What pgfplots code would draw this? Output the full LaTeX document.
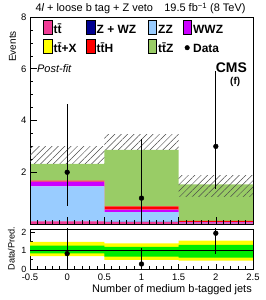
\documentclass[border=0pt]{standalone}
\usepackage{fontspec}
\setmainfont{Liberation Sans}
\usepackage{pgfplots}
\pgfplotsset{compat=1.18}
\usetikzlibrary{patterns.meta}
\definecolor{cTT}{RGB}{240,60,150}
\definecolor{cZWZ}{RGB}{0,0,145}
\definecolor{cZZ}{RGB}{153,204,255}
\definecolor{cWWZ}{RGB}{204,0,255}
\definecolor{cTTX}{RGB}{255,255,0}
\definecolor{cTTH}{RGB}{255,0,0}
\definecolor{cTTZ}{RGB}{153,204,102}
\definecolor{bandG}{RGB}{0,235,0}
\definecolor{bandY}{RGB}{255,255,0}
\newcommand{\tf}{\fontsize{9.5}{11}\selectfont}
\newcommand{\ttb}{t\={t}}
\pgfplotsset{
  common/.style={
    scale only axis, width=223bp,
    xmin=-0.5, xmax=2.5,
    tick align=inside, xtick pos=left, ytick pos=left,
    axis line style={line width=0.8bp},
    every tick/.style={black, line width=0.6bp},
    /pgf/number format/assume math mode=true,
    tick label style={font=\tf},
    xtick={-0.5,0,0.5,1,1.5,2,2.5},
    minor x tick num=4,
  },
  boxleg/.style={legend image code/.code={\fill[##1] (0bp,-4.7bp) rectangle (8.4bp,9.3bp);}},
}
\begin{document}
\begin{tikzpicture}
\useasboundingbox (-30bp,-76bp) rectangle (236bp,224bp);
% stack
\begin{axis}[common, at={(0,0)}, anchor=south west, height=207bp,
  ymin=0, ymax=8, hide axis, stack plots=y]
\addplot[const plot, fill=cTT, draw=none] coordinates {(-0.5,0.10) (0.5,0.08) (1.5,0.02) (2.5,0.02)} \closedcycle;
\addplot[const plot, fill=cZWZ, draw=none] coordinates {(-0.5,0.0) (0.5,0.0) (1.5,0.0) (2.5,0.0)} \closedcycle;
\addplot[const plot, fill=cZZ, draw=none] coordinates {(-0.5,1.35) (0.5,0.38) (1.5,0.02) (2.5,0.02)} \closedcycle;
\addplot[const plot, fill=cWWZ, draw=none] coordinates {(-0.5,0.19) (0.5,0.10) (1.5,0.02) (2.5,0.02)} \closedcycle;
\addplot[const plot, fill=cTTX, draw=none] coordinates {(-0.5,0.0) (0.5,0.0) (1.5,0.0) (2.5,0.0)} \closedcycle;
\addplot[const plot, fill=cTTH, draw=none] coordinates {(-0.5,0.04) (0.5,0.12) (1.5,0.06) (2.5,0.06)} \closedcycle;
\addplot[const plot, fill=cTTZ, draw=none] coordinates {(-0.5,0.64) (0.5,2.18) (1.5,1.41) (2.5,1.41)} \closedcycle;
\end{axis}
% overlay
\begin{axis}[common, at={(0,0)}, anchor=south west, height=207bp,
  ymin=0, ymax=8, ytick={2,4,6,8}, minor y tick num=3, xticklabels={},
  major tick length=7bp, minor tick length=3.5bp,
  legend columns=4,
  legend style={at={(rel axis cs:0,1)}, anchor=north west, xshift=13.3bp, yshift=-3bp,
    draw=none, fill=none, inner sep=0pt, outer sep=0pt, column sep=0pt, row sep=4.7bp,
    font=\fontsize{12}{13}\selectfont\bfseries,
    nodes={inner xsep=1.6bp, inner ysep=0pt, text height=9bp, text depth=1bp}},
  legend cell align=left,
  clip=false]
\addplot[forget plot, draw=none, pattern={Lines[angle=45,distance=4.5bp,line width=0.5bp]}, pattern color=black!70]
  coordinates {(-0.5,2.32) (0.5,2.32) (0.5,2.98) (-0.5,2.98)} -- cycle;
\addplot[forget plot, draw=none, pattern={Lines[angle=45,distance=4.5bp,line width=0.5bp]}, pattern color=black!70]
  coordinates {(0.5,2.86) (1.5,2.86) (1.5,3.44) (0.5,3.44)} -- cycle;
\addplot[forget plot, draw=none, pattern={Lines[angle=45,distance=4.5bp,line width=0.5bp]}, pattern color=black!70]
  coordinates {(1.5,1.05) (2.5,1.05) (2.5,1.89) (1.5,1.89)} -- cycle;
\addplot[forget plot, only marks, mark=*, mark size=2.4bp, black,
  error bars/.cd, y dir=both, y explicit, error mark=none, error bar style={line width=0.8bp}]
  coordinates {(0,2) += (0,2.64) -= (0,1.29) (1,1) += (0,2.30) -= (0,0.83) (2,3) += (0,2.92) -= (0,1.63)};
\addlegendimage{boxleg, fill=cTT}\addlegendentry{\makebox[31bp][l]{\ttb}}
\addlegendimage{boxleg, fill=cZWZ}\addlegendentry{\makebox[49.5bp][l]{Z + WZ}}
\addlegendimage{boxleg, fill=cZZ}\addlegendentry{\makebox[23bp][l]{ZZ}}
\addlegendimage{boxleg, fill=cWWZ}\addlegendentry{WWZ}
\addlegendimage{boxleg, fill=cTTX}\addlegendentry{\makebox[31bp][l]{\ttb+X}}
\addlegendimage{boxleg, fill=cTTH}\addlegendentry{\makebox[49.5bp][l]{\ttb H}}
\addlegendimage{boxleg, fill=cTTZ}\addlegendentry{\makebox[23bp][l]{\ttb Z}}
\addlegendimage{legend image code/.code={\path[opacity=0, draw=none, fill=none] (0bp,-4.7bp) rectangle (8.4bp,9.3bp); \fill[black] (4.2bp,1bp) circle (2.3bp);}}\addlegendentry{Data}
\node[anchor=base west, font=\fontsize{11}{12}\selectfont] at (rel axis cs:0,1) [xshift=2bp, yshift=5bp] {4{\itshape l} + loose b tag + Z veto};
\node[anchor=base east, font=\fontsize{11}{12}\selectfont] at (rel axis cs:1,1) [xshift=-4bp, yshift=5bp] {19.5 fb\textsuperscript{−1} (8 TeV)};
\node[anchor=west, font=\fontsize{11}{12}\selectfont\itshape, inner sep=0pt] at (axis cs:-0.406,6) {Post-fit};
\node[anchor=east, font=\fontsize{14}{15}\selectfont\bfseries, inner sep=0pt] at (axis cs:2.42,6.03) {CMS};
\node[anchor=center, font=\fontsize{10}{11}\selectfont\bfseries, inner sep=0pt] at (axis cs:2.26,5.5) {(f)};
\node[rotate=90, anchor=base east, font=\fontsize{10}{11}\selectfont, inner sep=0pt] at (rel axis cs:0,1) [xshift=-14bp, yshift=14bp] {Events};
\end{axis}
% ratio
\begin{axis}[common, at={(0,-45bp)}, anchor=south west, height=40bp,
  ymin=0, ymax=2.16, ytick={0,1,2}, minor y tick num=1,
  major tick length=5bp, minor tick length=3bp,
  yticklabel style={font=\fontsize{9}{10}\selectfont},
  xticklabel style={yshift=-1.5bp},
  xlabel={Number of medium b-tagged jets},
  xlabel style={at={(rel axis cs:1,0)}, anchor=base east, xshift=-1bp, yshift=-23bp, font=\fontsize{11}{12}\selectfont, inner sep=0pt},
  clip=true]
\addplot[fill=bandY, draw=none] coordinates {(-0.5,0.70) (0.5,0.70) (0.5,0.49) (1.5,0.49) (1.5,0.45) (2.5,0.45) (2.5,1.53) (1.5,1.53) (1.5,1.39) (0.5,1.39) (0.5,1.47) (-0.5,1.47)} -- cycle;
\addplot[fill=bandG, draw=none] coordinates {(-0.5,0.85) (0.5,0.85) (0.5,0.67) (1.5,0.67) (1.5,0.61) (2.5,0.61) (2.5,1.30) (1.5,1.30) (1.5,1.19) (0.5,1.19) (0.5,1.26) (-0.5,1.26)} -- cycle;
\addplot[black, line width=0.6bp] coordinates {(-0.5,1) (2.5,1)};
\addplot[only marks, mark=*, mark size=2.4bp, black,
  error bars/.cd, y dir=both, y explicit, error mark=none, error bar style={line width=0.8bp}]
  coordinates {(0,0.83) += (0,1.8) -= (0,0.61) (1,0.27) += (0,0.85) -= (0,0.23) (2,1.93) += (0,2.0) -= (0,1.12)};
\end{axis}
\node[rotate=90, anchor=base east, font=\fontsize{9.2}{11}\selectfont, inner sep=0pt] at (-15.5bp,-2.5bp) {Data/Pred.};
\end{tikzpicture}
\end{document}
